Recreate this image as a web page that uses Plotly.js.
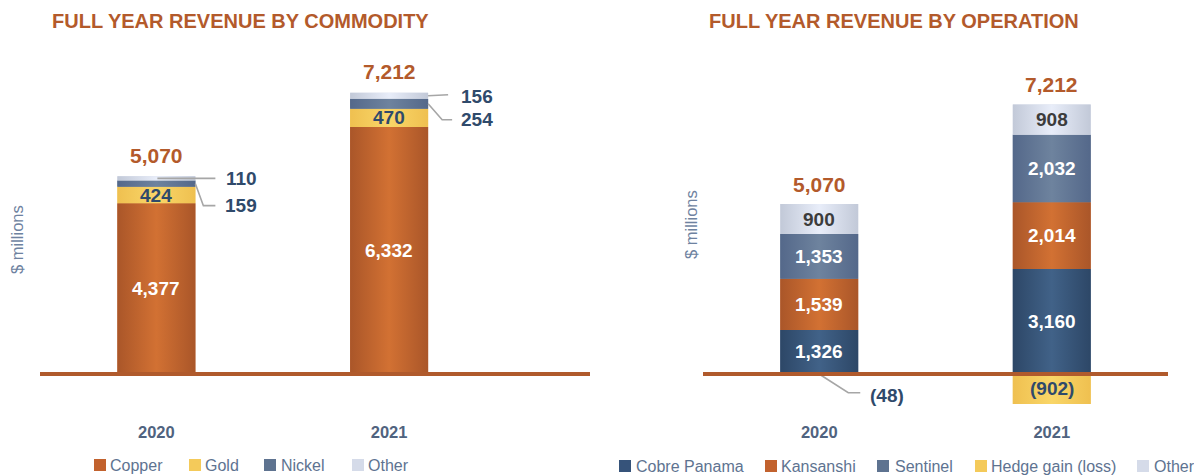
<!DOCTYPE html>
<html>
<head>
<meta charset="utf-8">
<script src="https://cdn.plot.ly/plotly-3.0.1.min.js"></script>
<style>html,body{margin:0;padding:0;background:#fff;}#chart{width:1194px;height:475px;}</style>
</head>
<body>
<div id="chart"></div>
<script>
// ---- data ----
const years = ['2020', '2021'];
const commodityNames = ['Copper', 'Gold', 'Nickel', 'Other'];
const copper = [4377, 6332];
const gold = [424, 470];
const nickel = [159, 254];
const otherCommodity = [110, 156];
const operationNames = ['Cobre Panama', 'Kansanshi', 'Sentinel', 'Hedge gain (loss)', 'Other'];
const cobrePanama = [1326, 3160];
const kansanshi = [1539, 2014];
const sentinel = [1353, 2032];
const hedge = [-48, -902];
const otherOperation = [900, 908];
const leftTitle = 'FULL YEAR REVENUE BY COMMODITY';
const rightTitle = 'FULL YEAR REVENUE BY OPERATION';
const yTitle = '$ millions';

// ---- styling ----
const W = 1194, H = 475;
const FONT = 'Liberation Sans, Arial, Helvetica, sans-serif';
const C = {
  title: '#B35A2B', navy: '#2F4A6B', legend: '#5E7391',
  year: '#50637F', lead: '#A6A6A6', base: '#B05A2C', dark: '#3C3C3C'
};
// [edge, centre, solid]
const G = {
  copper: ['#AA5629', '#D27133', '#C2622E'],
  gold: ['#EFC050', '#F9D668', '#F4CA5A'],
  nickel: ['#54688A', '#6E839E', '#5E7390'],
  other: ['#C2C9D8', '#E8EDF9', '#D5DBE9'],
  cobre: ['#2D4767', '#416288', '#36537A']
};
const px = x => x / W;
const py = y => 1 - y / H;
const fmt = v => v < 0 ? '(' + Math.abs(v).toLocaleString('en-US') + ')' : v.toLocaleString('en-US');
const idx = years.map((_, i) => i);
const BW = 0.335;
const MIN_INSIDE = 300;

const traces = [];
const annotations = [];
const shapes = [];
function txt(o) {
  return Object.assign({ showarrow: false, xanchor: 'center', yanchor: 'middle',
    font: { family: FONT, size: 19, color: C.navy, weight: 'bold' } }, o);
}

// stacked series -> bars (solid, underneath) + gradient overlay polygons + labels
function stack(seriesList, xa, ya) {
  const posBase = idx.map(() => 0), negBase = idx.map(() => 0);
  seriesList.forEach(s => {
    traces.push({
      type: 'bar', name: s.name, x: idx, y: s.vals, width: BW, xaxis: xa, yaxis: ya,
      showlegend: false, marker: { color: s.g[2], line: { width: 0 } }, hoverinfo: 'skip'
    });
    idx.forEach(i => {
      const v = s.vals[i];
      let b0, b1;
      if (v >= 0) { b0 = posBase[i]; b1 = b0 + v; posBase[i] = b1; }
      else { b0 = negBase[i]; b1 = b0 + v; negBase[i] = b1; }
      traces.push({
        type: 'scatter', mode: 'lines', xaxis: xa, yaxis: ya, showlegend: false, hoverinfo: 'skip',
        x: [i - BW / 2, i + BW / 2, i + BW / 2, i - BW / 2, i - BW / 2],
        y: [b0, b0, b1, b1, b0],
        line: { width: 0, color: 'rgba(0,0,0,0)' }, fill: 'toself',
        fillgradient: { type: 'horizontal', colorscale: [[0, s.g[0]], [0.5, s.g[1]], [1, s.g[0]]] }
      });
      if (Math.abs(v) >= MIN_INSIDE) {
        annotations.push(txt({ text: fmt(v), xref: xa, yref: ya, x: i, y: (b0 + b1) / 2, font: { family: FONT, size: 19, color: s.tc, weight: 'bold' } }));
      }
    });
  });
  return posBase;
}

const posLeft = stack([
  { name: commodityNames[0], vals: copper, g: G.copper, tc: '#ffffff' },
  { name: commodityNames[1], vals: gold, g: G.gold, tc: C.navy },
  { name: commodityNames[2], vals: nickel, g: G.nickel, tc: '#ffffff' },
  { name: commodityNames[3], vals: otherCommodity, g: G.other, tc: C.dark }
], 'x', 'y');
const posRight = stack([
  { name: operationNames[0], vals: cobrePanama, g: G.cobre, tc: '#ffffff' },
  { name: operationNames[1], vals: kansanshi, g: G.copper, tc: '#ffffff' },
  { name: operationNames[2], vals: sentinel, g: G.nickel, tc: '#ffffff' },
  { name: operationNames[3], vals: hedge, g: G.gold, tc: C.navy },
  { name: operationNames[4], vals: otherOperation, g: G.other, tc: C.dark }
], 'x2', 'y2');

const totalCommodity = idx.map(i => copper[i] + gold[i] + nickel[i] + otherCommodity[i]);
const totalOps = idx.map(i => cobrePanama[i] + kansanshi[i] + sentinel[i] + hedge[i] + otherOperation[i]);

// titles
const titleFont = { family: FONT, size: 20, color: C.title, weight: 'bold' };
annotations.push(txt({ text: leftTitle, xref: 'paper', yref: 'paper', x: px(240), y: py(21), font: titleFont }));
annotations.push(txt({ text: rightTitle, xref: 'paper', yref: 'paper', x: px(894), y: py(21), font: titleFont }));
// y titles
const yFont = { family: FONT, size: 16.5, color: '#6E82A0' };
annotations.push(txt({ text: yTitle, xref: 'paper', yref: 'paper', x: px(17), y: py(240), textangle: -90, font: yFont }));
annotations.push(txt({ text: yTitle, xref: 'paper', yref: 'paper', x: px(691), y: py(225), textangle: -90, font: yFont }));

// totals
const totFont = { family: FONT, size: 21, color: C.title, weight: 'bold' };
idx.forEach(i => {
  annotations.push(txt({ text: fmt(totalCommodity[i]), xref: 'x', yref: 'y', x: i, y: posLeft[i], yshift: 21, font: totFont }));
  annotations.push(txt({ text: fmt(totalOps[i]), xref: 'x2', yref: 'y2', x: i, y: posRight[i], yshift: 20, font: totFont }));
});

// leader labels for small commodity segments
const leadLine = { color: C.lead, width: 1.6 };
idx.forEach(i => {
  const otherMid = copper[i] + gold[i] + nickel[i] + otherCommodity[i] / 2;
  const nickelMid = copper[i] + gold[i] + nickel[i] / 2;
  const upPath = i === 0 ? 'M1,0 L59,0' : 'M39,0 L59,1';
  const shiftX = i === 0 ? 85 : 88;
  shapes.push({ type: 'path', xref: 'x', yref: 'y', xsizemode: 'pixel', ysizemode: 'pixel', xanchor: i, yanchor: otherMid, path: upPath, line: leadLine, layer: 'above' });
  annotations.push(txt({ text: fmt(otherCommodity[i]), xref: 'x', yref: 'y', x: i, y: otherMid, xshift: shiftX, yshift: i === 0 ? 0 : -1 }));
  const dn = i === 0 ? 22 : 16;
  shapes.push({ type: 'path', xref: 'x', yref: 'y', xsizemode: 'pixel', ysizemode: 'pixel', xanchor: i, yanchor: nickelMid, path: 'M39,0 L' + (i === 0 ? 47 : 53) + ',-' + dn + ' L' + (i === 0 ? 59 : 63) + ',-' + dn, line: leadLine, layer: 'above' });
  annotations.push(txt({ text: fmt(nickel[i]), xref: 'x', yref: 'y', x: i, y: nickelMid, xshift: shiftX, yshift: -dn }));
});
// leader label for small hedge segment
idx.forEach(i => {
  if (Math.abs(hedge[i]) < MIN_INSIDE) {
    shapes.push({ type: 'path', xref: 'x2', yref: 'y2', xsizemode: 'pixel', ysizemode: 'pixel', xanchor: i, yanchor: hedge[i] / 2, path: 'M1,0 L29,-18 L41,-18', line: leadLine, layer: 'above' });
    annotations.push(txt({ text: fmt(hedge[i]), xref: 'x2', yref: 'y2', x: i, y: hedge[i] / 2, xshift: 68, yshift: -21 }));
  }
});

// baselines
shapes.push({ type: 'line', xref: 'x domain', yref: 'y', x0: 0, x1: 1, y0: 0, y1: 0, line: { color: C.base, width: 4 }, layer: 'above' });
shapes.push({ type: 'line', xref: 'x2 domain', yref: 'y2', x0: 0, x1: 1, y0: 0, y1: 0, line: { color: C.base, width: 4 }, layer: 'above' });

// manual legends
function legend(names, colors, swatchX, textX, cy) {
  names.forEach((n, k) => {
    shapes.push({ type: 'rect', xref: 'paper', yref: 'paper', x0: px(swatchX[k]), x1: px(swatchX[k] + 12), y0: py(cy + 6), y1: py(cy - 6), fillcolor: colors[k], line: { width: 0 } });
    annotations.push(txt({ text: n, xref: 'paper', yref: 'paper', x: px(textX[k] - 1), y: py(cy), xanchor: 'left', yanchor: 'middle', font: { family: FONT, size: 16, color: C.legend } }));
  });
}
legend(commodityNames, [G.copper[2], G.gold[2], G.nickel[2], G.other[2]], [94, 189, 264, 352], [109, 204, 280, 367], 465);
legend(operationNames, [G.cobre[2], G.copper[2], G.nickel[2], G.gold[2], G.other[2]], [619, 765, 877, 975, 1137], [635, 780, 894, 990, 1153], 466);

const yDom = [py(420), py(60)];
const xTick = { family: FONT, size: 16.5, color: C.year, weight: 'bold' };
const layout = {
  width: W, height: H,
  margin: { l: 0, r: 0, t: 0, b: 0 },
  paper_bgcolor: '#ffffff', plot_bgcolor: '#ffffff',
  barmode: 'relative', showlegend: false,
  xaxis: { domain: [px(40), px(590)], range: [-0.5, 1.863], tickvals: idx, ticktext: years, ticks: '', showgrid: false, zeroline: false, showline: false, tickfont: xTick, anchor: 'y', fixedrange: true },
  yaxis: { domain: yDom, range: [-1179, 8051], visible: false, anchor: 'x', fixedrange: true },
  xaxis2: { domain: [px(703), px(1168)], range: [-0.5, 1.5], tickvals: idx, ticktext: years, ticks: '', showgrid: false, zeroline: false, showline: false, tickfont: xTick, anchor: 'y2', fixedrange: true },
  yaxis2: { domain: yDom, range: [-1386, 9458], visible: false, anchor: 'x2', fixedrange: true },
  annotations: annotations,
  shapes: shapes
};

Plotly.newPlot('chart', traces, layout, { staticPlot: true, displayModeBar: false });
</script>
</body>
</html>
